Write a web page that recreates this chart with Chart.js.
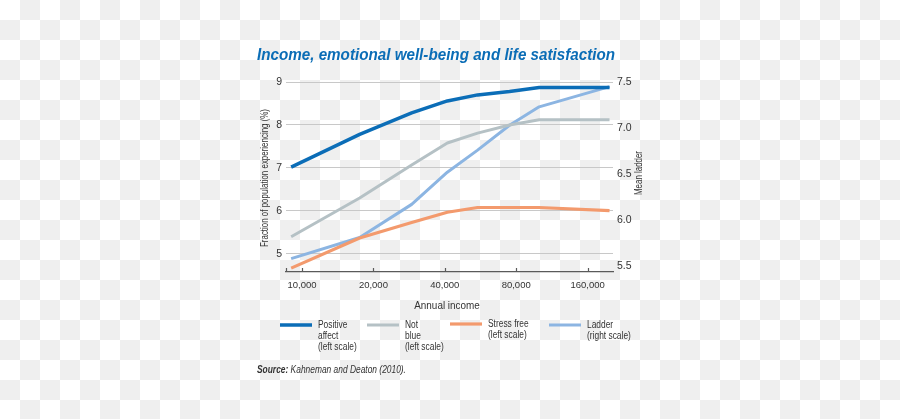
<!DOCTYPE html>
<html>
<head>
<meta charset="utf-8">
<script src="https://cdn.jsdelivr.net/npm/chart.js@4"></script>
<style>
  html, body { margin: 0; padding: 0; }
  body {
    width: 900px; height: 419px; overflow: hidden;
    background: repeating-conic-gradient(#efefef 0 25%, #ffffff 0 50%) 0 0 / 40px 40px;
  }
</style>
</head>
<body>
<canvas id="incomeChart" width="900" height="419"></canvas>
<script>
// values (income in USD, left scale %, right scale ladder)
const incomes = [9000, 17500, 29000, 41000, 55000, 75000, 100000, 198000];
const positiveAffect = [7.02, 7.78, 8.28, 8.56, 8.70, 8.78, 8.87, 8.87];
const notBlue = [5.40, 6.30, 7.07, 7.58, 7.81, 8.00, 8.12, 8.12];
const stressFree = [4.67, 5.37, 5.73, 5.97, 6.08, 6.08, 6.08, 6.01];
const ladder = [5.58, 5.81, 6.17, 6.52, 6.76, 7.03, 7.23, 7.45];
const incomeTicks = [10000, 20000, 40000, 80000, 160000];
const legendLines = [
  ['Positive', 'affect', '(left scale)'],
  ['Not', 'blue', '(left scale)'],
  ['Stress free', '(left scale)'],
  ['Ladder', '(right scale)']
];

const FONT = '"Liberation Sans", Arial, sans-serif';
const TEXT = '#333333';
const SQUEEZE = 0.84; // the original uses a narrower face than Liberation Sans

const pts = ys => ys.map((y, i) => ({ x: incomes[i], y }));

// draw text at (x, y) with a horizontal scale, optionally rotated
function narrowText(ctx, text, x, y, sx, angle) {
  ctx.save();
  ctx.translate(x, y);
  if (angle) ctx.rotate(angle);
  ctx.scale(sx, 1);
  ctx.fillText(text, 0, 0);
  ctx.restore();
}

// titles, legend, source line and the little upward ticks on the x axis
const extras = {
  id: 'extras',
  afterDraw(chart) {
    const ctx = chart.ctx;
    const area = chart.chartArea;
    const xs = chart.scales.x;
    ctx.save();
    ctx.textBaseline = 'middle';

    // main title, fitted to the width it has in the original
    ctx.font = 'italic bold 17px ' + FONT;
    ctx.fillStyle = '#0b6db6';
    ctx.textAlign = 'left';
    const title = 'Income, emotional well-being and life satisfaction';
    narrowText(ctx, title, 257, 55, 358 / ctx.measureText(title).width);

    ctx.fillStyle = TEXT;
    ctx.font = '10px ' + FONT;
    ctx.textAlign = 'center';
    const leftTitle = 'Fraction of population experiencing (%)';
    narrowText(ctx, leftTitle, 265, 178, 138 / ctx.measureText(leftTitle).width, -Math.PI / 2);
    narrowText(ctx, 'Mean ladder', 639, 173, 44 / ctx.measureText('Mean ladder').width, -Math.PI / 2);

    ctx.font = '11px ' + FONT;
    narrowText(ctx, 'Annual income', 447, 306, 0.9);

    // tick marks pointing up into the plot
    ctx.strokeStyle = '#5a5a5a';
    ctx.lineWidth = 1.2;
    ctx.beginPath();
    [area.left].concat(incomeTicks.map(v => xs.getPixelForValue(v))).forEach(px => {
      const x = Math.round(px) + 0.5;
      ctx.moveTo(x, area.bottom);
      ctx.lineTo(x, area.bottom - 4);
    });
    ctx.stroke();

    // legend
    const sampleX = [280, 367, 450, 549];
    ctx.font = '10px ' + FONT;
    ctx.textAlign = 'left';
    chart.data.datasets.forEach((ds, i) => {
      const y0 = i === 2 ? 324 : 325;
      ctx.strokeStyle = ds.borderColor;
      ctx.lineWidth = ds.borderWidth;
      ctx.beginPath();
      ctx.moveTo(sampleX[i], y0);
      ctx.lineTo(sampleX[i] + 32, y0);
      ctx.stroke();
      ctx.fillStyle = TEXT;
      legendLines[i].forEach((line, k) => {
        narrowText(ctx, line, sampleX[i] + 38, y0 + k * 11.3, SQUEEZE);
      });
    });

    // source
    ctx.fillStyle = TEXT;
    ctx.font = 'italic bold 10px ' + FONT;
    narrowText(ctx, 'Source:', 257, 370, SQUEEZE);
    const sw = ctx.measureText('Source: ').width * SQUEEZE;
    ctx.font = 'italic 10px ' + FONT;
    narrowText(ctx, 'Kahneman and Deaton (2010).', 257 + sw, 370, SQUEEZE);

    ctx.restore();
  }
};

new Chart(document.getElementById('incomeChart'), {
  type: 'line',
  data: {
    datasets: [
      { label: 'Positive affect', data: pts(positiveAffect), borderColor: '#0b6db7', borderWidth: 3.5, yAxisID: 'yLeft' },
      { label: 'Not blue', data: pts(notBlue), borderColor: '#b5c1c5', borderWidth: 3, yAxisID: 'yLeft' },
      { label: 'Stress free', data: pts(stressFree), borderColor: '#f39a6d', borderWidth: 3.2, yAxisID: 'yLeft' },
      { label: 'Ladder', data: pts(ladder), borderColor: '#8cb5e2', borderWidth: 3, yAxisID: 'yRight' }
    ]
  },
  options: {
    responsive: false,
    animation: false,
    layout: { padding: { top: 82, left: 0, right: 0, bottom: 0 } },
    elements: {
      point: { radius: 0 },
      line: { tension: 0, borderJoinStyle: 'round' }
    },
    plugins: {
      legend: { display: false },
      tooltip: { enabled: false }
    },
    scales: {
      x: {
        type: 'logarithmic',
        min: 8560,
        max: 204800,
        afterBuildTicks: s => { s.ticks = incomeTicks.map(v => ({ value: v })); },
        afterFit: s => { s.height = 147; },
        grid: { display: false, drawTicks: false },
        border: { display: true, color: '#5a5a5a', width: 1.2 },
        ticks: {
          autoSkip: false, maxRotation: 0, padding: 8, color: TEXT,
          font: { family: FONT, size: 9.5 },
          callback: v => Number(v).toLocaleString('en-US')
        }
      },
      yLeft: {
        position: 'left',
        min: 4.58,
        max: 9,
        afterFit: s => { s.width = 286; },
        grid: { color: '#c8c8c8', lineWidth: 1, drawTicks: false },
        border: { display: false },
        ticks: {
          stepSize: 1, includeBounds: false, padding: 4, color: TEXT,
          font: { family: FONT, size: 10.5 }
        }
      },
      yRight: {
        position: 'right',
        min: 5.435,
        max: 7.5,
        afterFit: s => { s.width = 287; },
        grid: { display: false, drawTicks: false },
        border: { display: false },
        ticks: {
          stepSize: 0.5, includeBounds: false, padding: 4, color: TEXT,
          font: { family: FONT, size: 10.5 },
          callback: v => Number(v).toFixed(1)
        }
      }
    }
  },
  plugins: [extras]
});
</script>
</body>
</html>
